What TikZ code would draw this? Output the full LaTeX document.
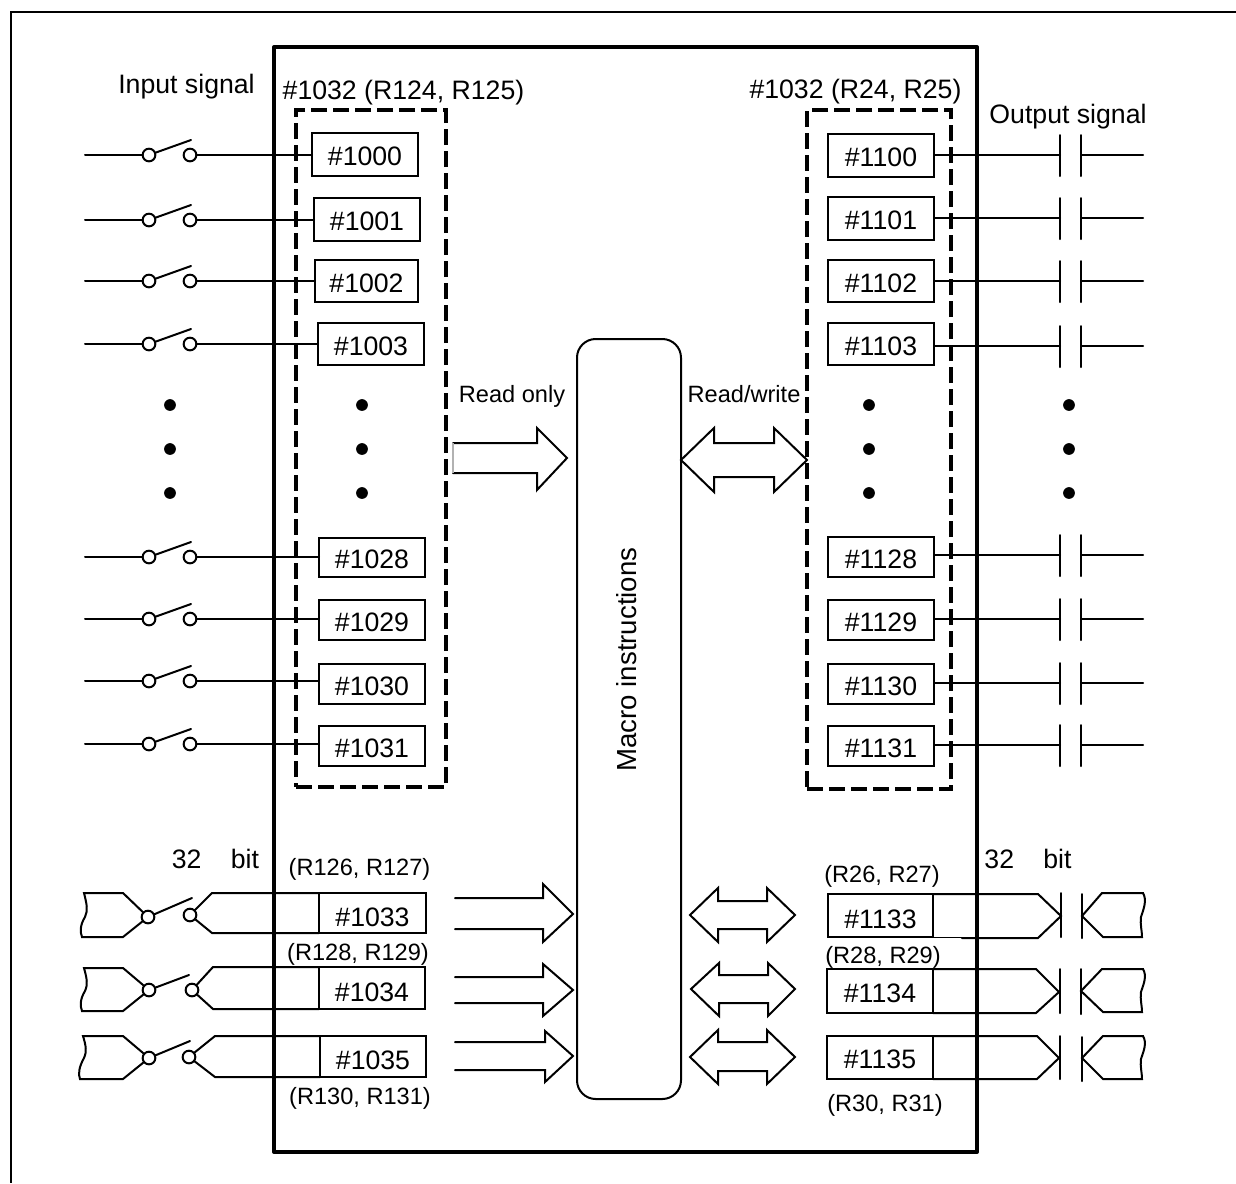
\documentclass[tikz,border=0pt]{standalone}
\usepackage{fontspec}
\setmainfont{Liberation Sans}
\newcommand{\szA}{\fontsize{20}{24}\selectfont}
\newcommand{\szB}{\fontsize{17.7}{21}\selectfont}
\tikzset{
  thinline/.style={line width=1.5pt,line cap=round,line join=miter},
  regbox/.style={draw,thinline,rectangle,inner sep=0pt,outer sep=0pt,font=\szA,text height=16.5pt,text depth=0pt,align=center},
  wordbox/.style={regbox,text height=19.5pt},
  swcircle/.style={draw,thinline,circle,fill=white,minimum size=9.5pt,inner sep=0pt,outer sep=0pt},
  dotmark/.style={circle,fill=black,minimum size=8.8pt,inner sep=0pt,outer sep=0pt},
  dashbox/.style={draw,rectangle,line width=2.3pt,dash pattern=on 12pt off 4.5pt,inner sep=0pt,outer sep=0pt},
  mainbox/.style={draw,rectangle,line width=3pt,line join=round,inner sep=0pt,outer sep=0pt},
  macrobox/.style={draw,thinline,rectangle,rounded corners=14pt,inner sep=0pt,outer sep=0pt},
  bigtxt/.style={anchor=base,inner sep=0pt,font=\szA},
  smalltxt/.style={anchor=base,inner sep=0pt,font=\szB},
  blockarrow/.style={thinline,line join=miter,fill=white},
}
% id x1 y1 x2 y2 text
\newcommand{\regb}[7][regbox]{\node[#1,minimum width={(#5-#3)*0.75pt},minimum height={(#6-#4)*0.75pt}] (#2) at ({(#3+#5)/2},{(#4+#6)/2}) {#7};}
% input switch: id, y, box
\newcommand{\inswitch}[3]{
  \coordinate (#1a) at (85,#2);
  \coordinate (#1l) at (191,#2-15);
  \node[swcircle] (#1p) at (149,#2) {};
  \node[swcircle] (#1q) at (190,#2) {};
  \draw[thinline] (#1a) -- (#1p);
  \draw[thinline] (#1p) -- (#1l);
  \draw[thinline] (#1q) -- (#1q -| #3.west);
}
% output contact: id, y, box
\newcommand{\outcontact}[3]{
  \coordinate (#1m) at (1060,#2);
  \coordinate (#1n) at (1081,#2);
  \coordinate (#1e) at (1143,#2);
  \draw[thinline] (#3.east |- #1m) -- (#1m);
  \draw[thinline] (1060,#2-20) -- (1060,#2+21);
  \draw[thinline] (1081,#2-20) -- (1081,#2+21);
  \draw[thinline] (#1n) -- (#1e);
}
% arrow: x0 headx tipx tipy shaft1 shaft2 head1 head2
\newcommand{\rarrow}[8]{
  \draw[blockarrow] (#1,#5) -- (#2,#5) -- (#2,#7) -- (#3,#4) -- (#2,#8) -- (#2,#6) -- (#1,#6);
}
% double arrow: ltip lnotch rnotch rtip tipy shaft1 shaft2 head1 head2
\newcommand{\darrow}[9]{
  \draw[blockarrow] (#1,#5) -- (#2,#8) -- (#2,#6) -- (#3,#6) -- (#3,#8) -- (#4,#5) -- (#3,#9) -- (#3,#7) -- (#2,#7) -- (#2,#9) -- cycle;
}
\begin{document}
\begin{tikzpicture}[x=0.75pt,y=-0.75pt]
\useasboundingbox (0,0) rectangle (1236,1183);
% outer frame
\coordinate (frameR) at (1236,12);
\coordinate (frameC) at (11,12);
\coordinate (frameB) at (11,1183);
\draw[line width=2pt,line join=miter] (frameR) -- (frameC) -- (frameB);
% main box, dashed groups
\node[mainbox,minimum width={703*0.75pt},minimum height={1105*0.75pt}] (main) at (625.5,599.5) {};
\node[dashbox,minimum width={150*0.75pt},minimum height={677*0.75pt}] (dashL) at (371,448.5) {};
\node[dashbox,minimum width={144*0.75pt},minimum height={679*0.75pt}] (dashR) at (879,449.5) {};
% macro box
\node[macrobox,minimum width={104*0.75pt},minimum height={760*0.75pt}] (macro) at (629,719) {};
\node[rotate=90,anchor=base,inner sep=0pt,font=\fontsize{20.7}{24}\selectfont] (macrotxt) at (636,659.5) {Macro instructions};
% headings
\node[bigtxt] (inlab) at (186.5,93) {Input signal};
\node[bigtxt] (outlab) at (1068,123) {Output signal};
\node[bigtxt] (grpL) at (403.5,99) {\#1032 (R124, R125)};
\node[bigtxt] (grpR) at (855.5,98) {\#1032 (R24, R25)};
\node[smalltxt] (ro) at (512,402) {Read only};
\node[smalltxt] (rw) at (744,402) {Read/write};
\node[bigtxt] (bitL) at (215.5,868) {32\hspace{1.1em}bit};
\node[bigtxt] (bitR) at (1028,868) {32\hspace{1.1em}bit};
\node[smalltxt] (r126) at (359.5,875) {(R126, R127)};
\node[smalltxt] (r128) at (358,960) {(R128, R129)};
\node[smalltxt] (r130) at (360,1104) {(R130, R131)};
\node[smalltxt] (r26) at (882,882) {(R26, R27)};
\node[smalltxt] (r28) at (883,963) {(R28, R29)};
\node[smalltxt] (r30) at (885,1111) {(R30, R31)};
% input registers
\regb{i0}{312}{133}{418}{176}{\#1000}
\regb{i1}{314}{198}{420}{241}{\#1001}
\regb{i2}{315}{260}{418}{302}{\#1002}
\regb{i3}{318}{323}{424}{365}{\#1003}
\regb{i28}{319}{538}{425}{577}{\#1028}
\regb{i29}{319}{600}{425}{640}{\#1029}
\regb{i30}{319}{664}{425}{704}{\#1030}
\regb{i31}{319}{726}{425}{766}{\#1031}
% output registers
\regb{o0}{828}{134}{934}{177}{\#1100}
\regb{o1}{828}{197}{934}{240}{\#1101}
\regb{o2}{828}{260}{934}{302}{\#1102}
\regb{o3}{828}{323}{934}{365}{\#1103}
\regb{o28}{828}{537}{934}{577}{\#1128}
\regb{o29}{828}{600}{934}{640}{\#1129}
\regb{o30}{828}{664}{934}{704}{\#1130}
\regb{o31}{828}{726}{934}{766}{\#1131}
% switches
\inswitch{si0}{155}{i0}
\inswitch{si1}{220}{i1}
\inswitch{si2}{281}{i2}
\inswitch{si3}{344}{i3}
\inswitch{si28}{557}{i28}
\inswitch{si29}{619}{i29}
\inswitch{si30}{681}{i30}
\inswitch{si31}{744}{i31}
% contacts
\outcontact{co0}{155}{o0}
\outcontact{co1}{218}{o1}
\outcontact{co2}{281}{o2}
\outcontact{co3}{346}{o3}
\outcontact{co28}{555}{o28}
\outcontact{co29}{619}{o29}
\outcontact{co30}{683}{o30}
\outcontact{co31}{745}{o31}
% dots
\foreach \dx/\dn in {170/a,362/b,869/c,1069/d}{
  \foreach \dy/\dm in {405/x,449/y,493/z}{
    \node[dotmark] (dot\dn\dm) at (\dx,\dy) {};
  }
}
% arrows
\rarrow{453}{537}{567}{458}{443}{473}{428}{490}
\draw[line width=0.9pt,gray!60] (453,443) -- (453,473);
\darrow{681}{714}{774}{807}{460}{443}{477}{428}{492}
\rarrow{455}{543}{573}{914}{898}{929}{884}{942}
\rarrow{455}{543}{573}{990}{977}{1003}{964}{1016}
\rarrow{455}{545}{573}{1056}{1042}{1070}{1031}{1082}
\darrow{690}{718}{767}{795}{915}{901}{929}{888}{942}
\darrow{691}{719}{768}{795}{989}{975}{1003}{963}{1016}
\darrow{690}{718}{767}{795}{1057}{1042}{1071}{1030}{1084}
% 32 bit input rows
\regb[wordbox]{i33}{319}{893}{426}{933}{\#1033}
\regb[wordbox]{i34}{319}{967}{425}{1009}{\#1034}
\regb[wordbox]{i35}{320}{1036}{426}{1077}{\#1035}
\node[swcircle] (p33) at (148,917) {};
\node[swcircle] (q33) at (190,915) {};
\coordinate (l33) at (192,898);
\draw[thinline] (p33) -- (l33);
\draw[thinline] (i33.north west) -- (212,893) -- (q33) (q33) -- (212,933) -- (i33.south west);
\draw[thinline] (p33) -- (123,937) -- (82,937) .. controls (80,932) and (80,925) .. (85,917) .. controls (88,910) and (87,905) .. (84,893) -- (123,893) -- (p33);
\node[swcircle] (p34) at (149,990) {};
\node[swcircle] (q34) at (192,990) {};
\coordinate (l34) at (189,975);
\draw[thinline] (p34) -- (l34);
\draw[thinline] (i34.north west) -- (213,967) -- (q34) (q34) -- (213,1009) -- (i34.south west);
\draw[thinline] (p34) -- (123,1011) -- (82,1011) .. controls (80,1006) and (80,999) .. (85,991) .. controls (88,984) and (87,979) .. (84,968) -- (123,968) -- (p34);
\node[swcircle] (p35) at (149,1058) {};
\node[swcircle] (q35) at (189,1057) {};
\coordinate (l35) at (190,1041);
\draw[thinline] (p35) -- (l35);
\draw[thinline] (i35.north west) -- (215,1036) -- (q35) (q35) -- (215,1077) -- (i35.south west);
\draw[thinline] (p35) -- (123,1079) -- (80,1079) .. controls (78,1074) and (79,1067) .. (84,1058) .. controls (87,1051) and (86,1046) .. (83,1036) -- (123,1036) -- (p35);
% 32 bit output rows
\regb[regbox,text height=18.75pt]{o33}{828}{894}{933}{937}{\#1133}
\regb{o34}{827}{969}{933}{1013}{\#1134}
\regb{o35}{827}{1036}{933}{1079}{\#1135}
\coordinate (t33) at (1061,916);
\coordinate (t34) at (1059,992);
\coordinate (t35) at (1059,1058);
\draw[line width=0.7pt] (o33.south east) -- (962,937);
\draw[thinline] (o33.north east) -- (1038,894) -- (t33) -- (1038,938) -- (962,938);
\draw[thinline] (o34.north east) -- (1036,969) -- (t34) -- (1036,1013) -- (o34.south east);
\draw[thinline] (o35.north east) -- (1037,1036) -- (t35) -- (1037,1079) -- (o35.south east);
\draw[thinline] (1061,893) -- (1061,937);
\draw[thinline] (1082,894) -- (1082,938);
\draw[thinline] (1060,969) -- (1060,1013);
\draw[thinline] (1081,969) -- (1081,1014);
\draw[thinline] (1060,1036) -- (1060,1079);
\draw[thinline] (1082,1037) -- (1082,1081);
\draw[thinline] (1082,916) -- (1102,893) -- (1143,893) .. controls (1147,900) and (1144,908) .. (1141,917) .. controls (1140,925) and (1142,930) .. (1142,937) -- (1103,937) -- cycle;
\draw[thinline] (1081,991) -- (1102,969) -- (1143,969) .. controls (1147,976) and (1144,983) .. (1141,992) .. controls (1140,1000) and (1142,1005) .. (1142,1012) -- (1103,1012) -- cycle;
\draw[thinline] (1082,1058) -- (1103,1036) -- (1143,1036) .. controls (1147,1043) and (1144,1050) .. (1141,1059) .. controls (1140,1067) and (1142,1072) .. (1142,1079) -- (1103,1079) -- cycle;
\end{tikzpicture}
\end{document}
